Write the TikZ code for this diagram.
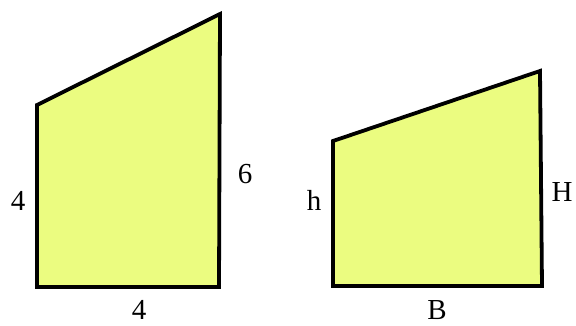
\documentclass[tikz,border=0pt]{standalone}
\usepackage{fontspec}
\setmainfont{Liberation Serif}
\definecolor{trapfill}{RGB}{235,252,128}
\begin{document}
\begin{tikzpicture}[x=1pt,y=-1pt,
  trapshape/.style={draw=black,fill=trapfill,line width=3.8pt,line join=miter},
  lbl/.style={font=\fontsize{29}{33}\selectfont,inner sep=0pt}]
\useasboundingbox (0,0) rectangle (576,326);
\coordinate (a1) at (37,287);
\coordinate (a2) at (219,287);
\coordinate (a3) at (220,14);
\coordinate (a4) at (37,105);
\draw[trapshape] (a1) -- (a2) -- (a3) -- (a4) -- cycle;
\coordinate (b1) at (333,286);
\coordinate (b2) at (542,286);
\coordinate (b3) at (540,71);
\coordinate (b4) at (333,141);
\draw[trapshape] (b1) -- (b2) -- (b3) -- (b4) -- cycle;
\node[lbl] (l1) at (18,201) {4};
\node[lbl] (l2) at (245,174) {6};
\node[lbl] (l3) at (139,310) {4};
\node[lbl] (r1) at (314,200) {h};
\node[lbl] (r2) at (562,192) {H};
\node[lbl] (r3) at (437,310) {B};
\end{tikzpicture}
\end{document}
